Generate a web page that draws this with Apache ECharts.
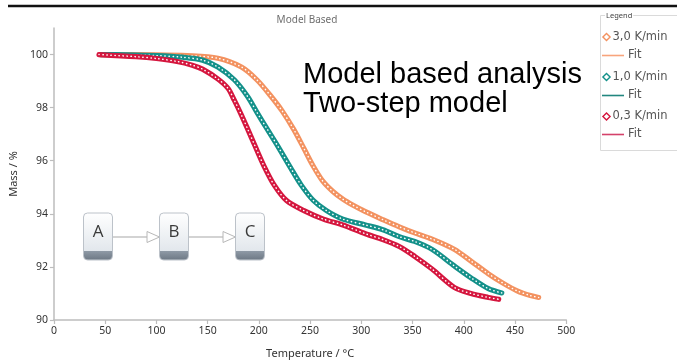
<!DOCTYPE html>
<html>
<head>
<meta charset="utf-8">
<script src="https://cdn.jsdelivr.net/npm/echarts@6/dist/echarts.min.js"></script>
<style>
  html, body { margin: 0; padding: 0; background: #fff; }
  #chart { width: 677px; height: 364px; }
</style>
</head>
<body>
<div id="chart"></div>
<script>
// TGA mass loss curves, three heating rates, with two-step model fits
const rateNames = ['3,0 K/min', '1,0 K/min', '0,3 K/min'];

const tempFast = [45, 100, 130, 160, 183, 198, 212, 223, 234, 244, 253, 262, 272, 282, 292, 304, 321, 337, 352, 369, 391, 407, 424, 439, 452, 465, 473];
const massFast = [100.0, 99.99, 99.96, 99.86, 99.53, 99.05, 98.42, 97.86, 97.18, 96.46, 95.8, 95.25, 94.85, 94.55, 94.32, 94.08, 93.78, 93.51, 93.28, 93.05, 92.66, 92.22, 91.74, 91.37, 91.1, 90.92, 90.85];

const tempMid = [46, 70, 100, 125, 145, 160, 176, 189, 198, 208, 218, 231, 241, 253, 266, 282, 304, 321, 337, 352, 369, 391, 407, 424, 437];
const massMid = [100.0, 99.99, 99.96, 99.9, 99.79, 99.53, 99.05, 98.42, 97.83, 97.2, 96.58, 95.73, 95.1, 94.51, 94.12, 93.8, 93.58, 93.4, 93.14, 92.96, 92.66, 92.03, 91.59, 91.18, 91.02];

const tempSlow = [44, 80, 100, 120, 135, 145, 160, 170, 176, 183, 189, 196, 205, 215, 227, 244, 263, 282, 304, 321, 337, 352, 369, 391, 407, 424, 434];
const massSlow = [100.0, 99.92, 99.85, 99.74, 99.6, 99.45, 99.08, 98.72, 98.28, 97.72, 97.2, 96.58, 95.8, 95.08, 94.5, 94.12, 93.8, 93.58, 93.25, 93.03, 92.77, 92.4, 91.92, 91.22, 91.0, 90.85, 90.78];

const yTickValues = [90, 92, 94, 96, 98, 100];

const colors = {
  fast: { mark: '#F39260', fit: '#F8A47C' },
  mid:  { mark: '#14918A', fit: '#22877F' },
  slow: { mark: '#D5173F', fit: '#D4416A' }
};

function zip(t, m) { return t.map((v, i) => [v, m[i]]); }

// each heating rate: fit curve underneath, then a band of hollow markers on top
function rateSeries(name, temps, masses, c, z) {
  const pts = zip(temps, masses);
  const common = { type: 'line', data: pts, smooth: 0.3, showSymbol: false, silent: true, animation: false };
  return [
    Object.assign({}, common, { name: 'Fit', z: z, lineStyle: { color: c.fit, width: 1.2 } }),
    Object.assign({}, common, { name: name, z: z + 1, lineStyle: { color: c.mark, width: 5.2, cap: 'round', join: 'round' } }),
    Object.assign({}, common, { name: name, z: z + 2, lineStyle: { color: '#ffffff', width: 1.5, type: [0.3, 3.7], cap: 'round' } })
  ];
}

const series = [].concat(
  rateSeries(rateNames[0], tempFast, massFast, colors.fast, 2),
  rateSeries(rateNames[1], tempMid, massMid, colors.mid, 5),
  rateSeries(rateNames[2], tempSlow, massSlow, colors.slow, 8)
);

// reaction scheme A -> B -> C
function schemeBox(x, letter) {
  const y = 213, w = 29, h = 47;
  return [
    { type: 'rect', shape: { x: x, y: y, width: w, height: h, r: 4 },
      style: { fill: new echarts.graphic.LinearGradient(0, 0, 0, 1, [
        { offset: 0, color: '#ffffff' }, { offset: 0.8, color: '#e2e7ec' }, { offset: 1, color: '#d6dce2' }]),
        stroke: '#bcc2c9', lineWidth: 1 }, z: 20 },
    { type: 'rect', shape: { x: x + 0.5, y: y + h - 9, width: w - 1, height: 8.5, r: [0, 0, 4, 4] },
      style: { fill: new echarts.graphic.LinearGradient(0, 0, 0, 1, [
        { offset: 0, color: '#8f9aa6' }, { offset: 1, color: '#6f7a86' }]) }, z: 21 },
    { type: 'text', style: { x: x + w / 2, y: y + 19, text: letter, align: 'center', verticalAlign: 'middle',
      font: '17px "Open Sans", sans-serif', fill: '#3a3a3a' }, z: 22 }
  ];
}
function schemeArrow(x1, x2) {
  const y = 237;
  return [
    { type: 'line', shape: { x1: x1, y1: y, x2: x2 - 12, y2: y }, style: { stroke: '#c4c4c4', lineWidth: 1.5 }, z: 19 },
    { type: 'polygon', shape: { points: [[x2 - 12.5, y - 5.5], [x2, y], [x2 - 12.5, y + 5.5]] },
      style: { fill: '#ffffff', stroke: '#b8b8b8', lineWidth: 1 }, z: 19 }
  ];
}

// legend panel
function legendItems() {
  const items = [];
  const rows = [
    { label: rateNames[0], c: colors.fast, y: 37, fy: 55.5 },
    { label: rateNames[1], c: colors.mid, y: 77, fy: 95.5 },
    { label: rateNames[2], c: colors.slow, y: 116.5, fy: 134.5 }
  ];
  const font = '11.5px "DejaVu Sans", sans-serif';
  rows.forEach(r => {
    items.push({ type: 'polygon', shape: { points: [[606.5, r.y - 3.6], [610.1, r.y], [606.5, r.y + 3.6], [602.9, r.y]] },
      style: { fill: '#fff', stroke: r.c.mark, lineWidth: 1.4 }, z: 31 });
    items.push({ type: 'text', style: { x: 612.5, y: r.y, text: r.label, verticalAlign: 'middle', font: font, fill: '#555' }, z: 31 });
    items.push({ type: 'line', shape: { x1: 602, y1: r.fy, x2: 624, y2: r.fy }, style: { stroke: r.c.fit, lineWidth: 1.6 }, z: 31 });
    items.push({ type: 'text', style: { x: 628, y: r.fy, text: 'Fit', verticalAlign: 'middle', font: font, fill: '#555' }, z: 31 });
  });
  return items;
}

const chart = echarts.init(document.getElementById('chart'), null, { renderer: 'canvas' });

chart.setOption({
  animation: false,
  backgroundColor: '#ffffff',
  title: {
    text: 'Model Based',
    left: 302, top: 10, textAlign: 'center',
    textStyle: { fontFamily: 'Noto Sans', fontSize: 10, fontWeight: 'normal', color: '#6e6e6e' }
  },
  grid: { left: 46.7, right: 110.7, top: 28, bottom: 39 },
  xAxis: {
    type: 'value', min: 0, max: 500, interval: 50,
    name: 'Temperature / °C', nameLocation: 'middle', nameGap: 28,
    nameTextStyle: { fontFamily: 'Noto Sans', fontSize: 11, color: '#333' },
    axisLine: { lineStyle: { color: '#bdbdbd', width: 1.5 } },
    axisTick: { show: true, length: 4, lineStyle: { color: '#bdbdbd', width: 1.2 } },
    axisLabel: { fontFamily: 'Noto Sans', fontSize: 10.5, color: '#333', margin: 6 },
    splitLine: { show: false }
  },
  yAxis: {
    type: 'value', min: 90, max: 101, interval: 2,
    name: 'Mass / %', nameLocation: 'middle', nameGap: 30, nameRotate: 90,
    nameTextStyle: { fontFamily: 'Noto Sans', fontSize: 11, color: '#333' },
    axisLine: { show: true, lineStyle: { color: '#bdbdbd', width: 1.5 } },
    axisTick: { show: true, length: 4, customValues: yTickValues, lineStyle: { color: '#bdbdbd', width: 1.2 } },
    axisLabel: { fontFamily: 'Noto Sans', fontSize: 10.5, color: '#333', margin: 6, customValues: yTickValues },
    splitLine: { show: false }
  },
  series: series,
  graphic: [].concat(
    [
      { type: 'line', shape: { x1: 8, y1: 6, x2: 677, y2: 6 }, style: { stroke: '#111', lineWidth: 2.5 }, z: 30 },
      { type: 'text', style: { x: 303, y: 75, text: 'Model based analysis', verticalAlign: 'middle',
        font: '29px "Liberation Sans", Arial, sans-serif', fill: '#000' }, z: 25 },
      { type: 'text', style: { x: 303, y: 104, text: 'Two-step model', verticalAlign: 'middle',
        font: '29px "Liberation Sans", Arial, sans-serif', fill: '#000' }, z: 25 },
      { type: 'rect', shape: { x: 600.5, y: 15.5, width: 80, height: 135 },
        style: { fill: '#fff', stroke: '#dadada', lineWidth: 1 }, z: 29 },
      { type: 'text', style: { x: 605, y: 15.5, text: 'Legend', verticalAlign: 'middle',
        font: '7.5px "Noto Sans", sans-serif', fill: '#444', backgroundColor: '#fff', padding: [0, 1] }, z: 31 }
    ],
    legendItems(),
    schemeBox(83.5, 'A'), schemeArrow(113, 159.5),
    schemeBox(159.5, 'B'), schemeArrow(188.5, 235.5),
    schemeBox(235.5, 'C')
  )
});
</script>
</body>
</html>
